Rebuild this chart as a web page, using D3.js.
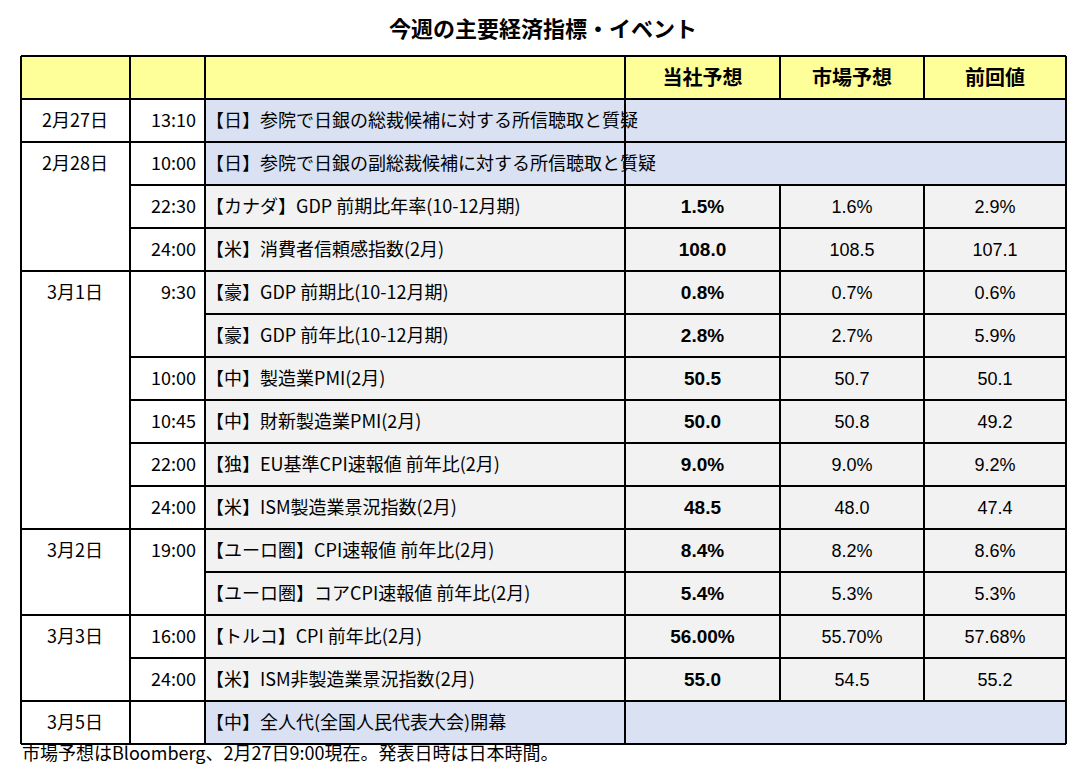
<!DOCTYPE html>
<html><head><meta charset="utf-8">
<script src="https://cdn.jsdelivr.net/npm/d3@7"></script>
<style>body{margin:0;background:#fff}</style></head>
<body><svg id="c" width="1086" height="773"></svg>
<script>
const title = "今週の主要経済指標・イベント";
const headers = ["", "", "", "当社予想", "市場予想", "前回値"];
const dates = ["2月27日","2月28日","","","3月1日","","","","","","3月2日","","3月3日","","3月5日"];
const times = ["13:10","10:00","22:30","24:00","9:30","","10:00","10:45","22:00","24:00","19:00","","16:00","24:00",""];
const events = ["【日】参院で日銀の総裁候補に対する所信聴取と質疑","【日】参院で日銀の副総裁候補に対する所信聴取と質疑","【カナダ】GDP 前期比年率(10-12月期)","【米】消費者信頼感指数(2月)","【豪】GDP 前期比(10-12月期)","【豪】GDP 前年比(10-12月期)","【中】製造業PMI(2月)","【中】財新製造業PMI(2月)","【独】EU基準CPI速報値 前年比(2月)","【米】ISM製造業景況指数(2月)","【ユーロ圏】CPI速報値 前年比(2月)","【ユーロ圏】コアCPI速報値 前年比(2月)","【トルコ】CPI 前年比(2月)","【米】ISM非製造業景況指数(2月)","【中】全人代(全国人民代表大会)開幕"];
const ourForecast = ["","","1.5%","108.0","0.8%","2.8%","50.5","50.0","9.0%","48.5","8.4%","5.4%","56.00%","55.0",""];
const marketForecast = ["","","1.6%","108.5","0.7%","2.7%","50.7","50.8","9.0%","48.0","8.2%","5.3%","55.70%","54.5",""];
const previous = ["","","2.9%","107.1","0.6%","5.9%","50.1","49.2","9.2%","47.4","8.6%","5.3%","57.68%","55.2",""];
const footnote = "市場予想はBloomberg、2月27日9:00現在。発表日時は日本時間。";

(function(){
const svg = d3.select("#c");
const font = "'Noto Sans CJK JP', sans-serif";
const colEdges = [21,130,205,625,780,924,1066];
const n = events.length;
const y = d3.scaleBand().domain(d3.range(-1, n)).range([56, 56 + 43*(n+1)]);
const x0 = i => colEdges[i], x1 = i => colEdges[i+1];
const isEventOnly = events.map((e,i)=>ourForecast[i]==="");

svg.append("text").attr("x",543).attr("y",37).attr("text-anchor","middle")
  .attr("font-family",font).attr("font-weight","bold").attr("font-size",22).text(title);

svg.append("rect").attr("x",21).attr("y",y(-1)).attr("width",1045).attr("height",y.bandwidth()).attr("fill","#ffff99");
headers.forEach((h,i)=>{ if(h) svg.append("text").attr("x",(x0(i)+x1(i))/2).attr("y",y(-1)+y.bandwidth()/2+7)
  .attr("text-anchor","middle").attr("font-family",font).attr("font-weight","bold").attr("font-size",20).text(h);});

d3.range(n).forEach(i=>{
  svg.append("rect").attr("x",205).attr("y",y(i)).attr("width",1066-205).attr("height",y.bandwidth())
    .attr("fill", isEventOnly[i] ? "#d9e1f2" : "#f2f2f2");
});
const g = svg.append("g").attr("font-family",font).attr("font-size",18).attr("fill","#000");
d3.range(n).forEach(i=>{
  const cy = y(i)+y.bandwidth()/2+6;
  if(dates[i]) g.append("text").attr("x",75).attr("y",cy).attr("text-anchor","middle").text(dates[i]);
  if(times[i]) g.append("text").attr("x",196).attr("y",cy).attr("text-anchor","end").text(times[i]);
  g.append("text").attr("x",206).attr("y",cy).text(events[i]);
  [ourForecast,marketForecast,previous].forEach((arr,k)=>{
    if(arr[i]) g.append("text").attr("x",(x0(k+3)+x1(k+3))/2).attr("y",cy).attr("text-anchor","middle")
      .attr("font-family", k===0 ? "'Liberation Sans', Arial, sans-serif" : "'Liberation Sans Narrow','Liberation Sans', sans-serif")
      .attr("font-weight",k===0?"bold":"normal").attr("font-size",k===0?19:18).text(arr[i]);
  });
});

const L = svg.append("g").attr("stroke","#000").attr("stroke-width",1.2).attr("shape-rendering","crispEdges");
const yTop = y(-1), yBot = y(n-1)+y.bandwidth();
colEdges.forEach((cx,i)=>{
  if(i===4||i===5){
    d3.range(-1,n).forEach(r=>{ if(r===-1||!isEventOnly[r]) L.append("line").attr("x1",cx).attr("x2",cx).attr("y1",y(r)).attr("y2",y(r)+y.bandwidth()); });
  } else L.append("line").attr("x1",cx).attr("x2",cx).attr("y1",yTop).attr("y2",yBot);
});
d3.range(-1,n+1).forEach(r=>{
  const yy = r===n ? yBot : y(r);
  const groupStart = r===-1||r===0||r===n||dates[r]!=="";
  const timeStart = groupStart || times[r]!=="";
  if(groupStart) L.append("line").attr("x1",21).attr("x2",1066).attr("y1",yy).attr("y2",yy);
  else {
    if(timeStart) L.append("line").attr("x1",130).attr("x2",205).attr("y1",yy).attr("y2",yy);
    L.append("line").attr("x1",205).attr("x2",1066).attr("y1",yy).attr("y2",yy);
  }
});

svg.append("text").attr("x",22).attr("y",760).attr("font-family",font).attr("font-size",18).text(footnote);
})();
</script></body></html>
